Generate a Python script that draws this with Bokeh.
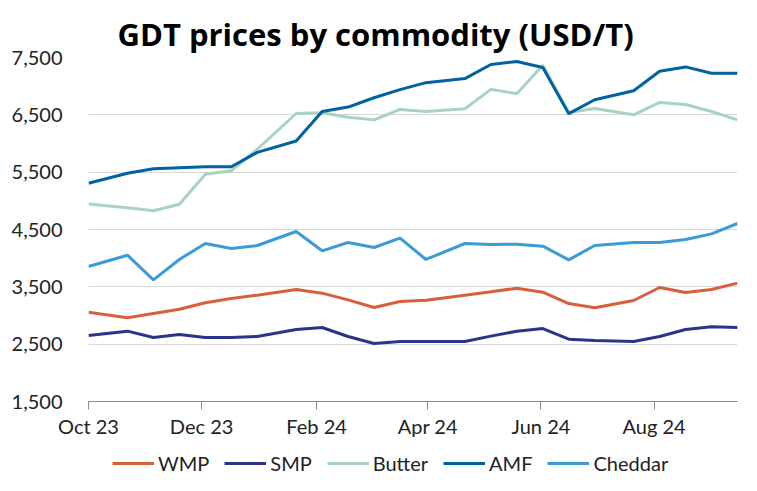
import pandas as pd
from bokeh.plotting import figure
from bokeh.layouts import column
from bokeh.models import (Range1d, FixedTicker, NumeralTickFormatter,
                          DatetimeTickFormatter, Legend, LegendItem, ColumnDataSource)
from bokeh.embed import file_html
from bokeh.resources import INLINE

# ---- data ----
dates = ["2023-10-01", "2023-10-22", "2023-11-05", "2023-11-19", "2023-12-03",
         "2023-12-17", "2023-12-31", "2024-01-21", "2024-02-04", "2024-02-18",
         "2024-03-03", "2024-03-17", "2024-03-31", "2024-04-21", "2024-05-05",
         "2024-05-19", "2024-06-02", "2024-06-16", "2024-06-30", "2024-07-21",
         "2024-08-04", "2024-08-18", "2024-09-01", "2024-09-15"]

wmp = [3058, 2959, 3035, 3110, 3221, 3297, 3355, 3453, 3390, 3273, 3140, 3244,
       3267, 3355, 3413, 3477, 3407, 3209, 3134, 3262, 3488, 3401, 3453, 3564]
smp = [2651, 2727, 2616, 2669, 2616, 2616, 2634, 2756, 2791, 2634, 2512, 2547,
       2547, 2547, 2640, 2727, 2773, 2587, 2564, 2547, 2634, 2756, 2802, 2791]
butter = [4944, 4880, 4827, 4939, 5465, 5523, 5900, 6523, 6535, 6459, 6412, 6594,
          6558, 6605, 6944, 6868, 7365, 6540, 6611, 6500, 6716, 6681, 6558, 6412]
amf = [5307, 5482, 5558, 5576, 5594, 5594, 5845, 6044, 6558, 6635, 6798, 6939,
       7061, 7132, 7377, 7430, 7325, 6520, 6763, 6921, 7260, 7336, 7225, 7225]
cheddar = [3855, 4052, 3622, 3977, 4256, 4169, 4221, 4465, 4128, 4273, 4186, 4349,
           3977, 4256, 4238, 4244, 4209, 3971, 4221, 4273, 4273, 4326, 4424, 4605]

series_names = ["WMP", "SMP", "Butter", "AMF", "Cheddar"]
series_values = [wmp, smp, butter, amf, cheddar]
series_colors = ["#D75F3A", "#2A3589", "#A7D3C1", "#0062A1", "#3A9BD8"]

x_tick_dates = ["2023-10-01", "2023-12-01", "2024-02-01", "2024-04-01",
                "2024-06-01", "2024-08-01"]
y_ticks = [1500, 2500, 3500, 4500, 5500, 6500, 7500]

FONT = "Lato"

x = pd.to_datetime(dates)
x_start = pd.Timestamp(dates[0])
x_end = pd.Timestamp(dates[-1])

p = figure(frame_width=649, frame_height=344, x_axis_type="datetime",
           x_range=Range1d(x_start, x_end), y_range=Range1d(1500, 7500),
           output_backend="svg", toolbar_location=None,
           title="GDT prices by commodity (USD/T)",
           min_border_left=88, min_border_right=12,
           min_border_top=57, min_border_bottom=44)

p.outline_line_color = None
p.background_fill_color = "white"
p.border_fill_color = "white"

p.title.text_font = "Open Sans"
p.title.text_font_size = "31px"
p.title.text_font_style = "bold"
p.title.text_color = "#000000"
p.title.align = "left"
p.title.offset = 29
p.title.standoff = 5

# grids
p.xgrid.grid_line_color = None
p.ygrid.grid_line_color = "#D9D9D9"
p.ygrid.grid_line_width = 1

# y axis
p.yaxis.ticker = FixedTicker(ticks=y_ticks)
p.yaxis.formatter = NumeralTickFormatter(format="0,0")
p.yaxis.axis_line_color = None
p.yaxis.major_tick_line_color = None
p.yaxis.minor_tick_line_color = None
p.yaxis.major_tick_out = 0
p.yaxis.major_tick_in = 0
p.yaxis.major_label_standoff = 26
p.yaxis.major_label_text_font = FONT
p.yaxis.major_label_text_font_size = "20px"
p.yaxis.major_label_text_color = "#222222"

# x axis
tick_ms = [pd.Timestamp(d).value // 10**6 for d in x_tick_dates]
p.xaxis.ticker = FixedTicker(ticks=tick_ms)
fmt = "%b %y"
p.xaxis.formatter = DatetimeTickFormatter(
    microseconds=fmt, milliseconds=fmt, seconds=fmt, minsec=fmt, minutes=fmt,
    hourmin=fmt, hours=fmt, days=fmt, months=fmt, years=fmt)
p.xaxis.axis_line_color = "#8C8C8C"
p.xaxis.axis_line_width = 1
p.xaxis.major_tick_line_color = "#8C8C8C"
p.xaxis.major_tick_out = 8
p.xaxis.major_tick_in = 0
p.xaxis.minor_tick_line_color = None
p.xaxis.major_label_standoff = 4
p.xaxis.major_label_text_font = FONT
p.xaxis.major_label_text_font_size = "20px"
p.xaxis.major_label_text_color = "#222222"

for name, vals, col in zip(series_names, series_values, series_colors):
    src = ColumnDataSource(dict(x=x, y=vals))
    p.line("x", "y", source=src, line_color=col, line_width=3)

# ---- legend strip below the chart (frame aligned with the chart's frame) ----
q = figure(width=749, height=40, output_backend="svg", toolbar_location=None,
           x_range=Range1d(0, 1), y_range=Range1d(0, 1),
           min_border_left=0, min_border_right=0,
           min_border_top=0, min_border_bottom=0)
q.axis.visible = False
q.grid.visible = False
q.outline_line_color = None
q.background_fill_color = "white"
q.border_fill_color = "white"

items = []
for name, col in zip(series_names, series_colors):
    # single-point line: draws nothing in the strip, only provides the legend swatch
    r = q.line(x=[-1], y=[-1], line_color=col, line_width=3)
    items.append(LegendItem(label=name, renderers=[r]))

legend = Legend(items=items, orientation="horizontal", location=(24, 10),
                glyph_width=42, glyph_height=20, label_standoff=4, spacing=15,
                padding=0, margin=0, border_line_color=None,
                background_fill_alpha=0, label_text_font=FONT,
                label_text_font_size="20px", label_text_color="#222222")
q.add_layout(legend, "center")

layout = column(p, q, spacing=0)
open("out.html", "w").write(file_html(layout, INLINE))
